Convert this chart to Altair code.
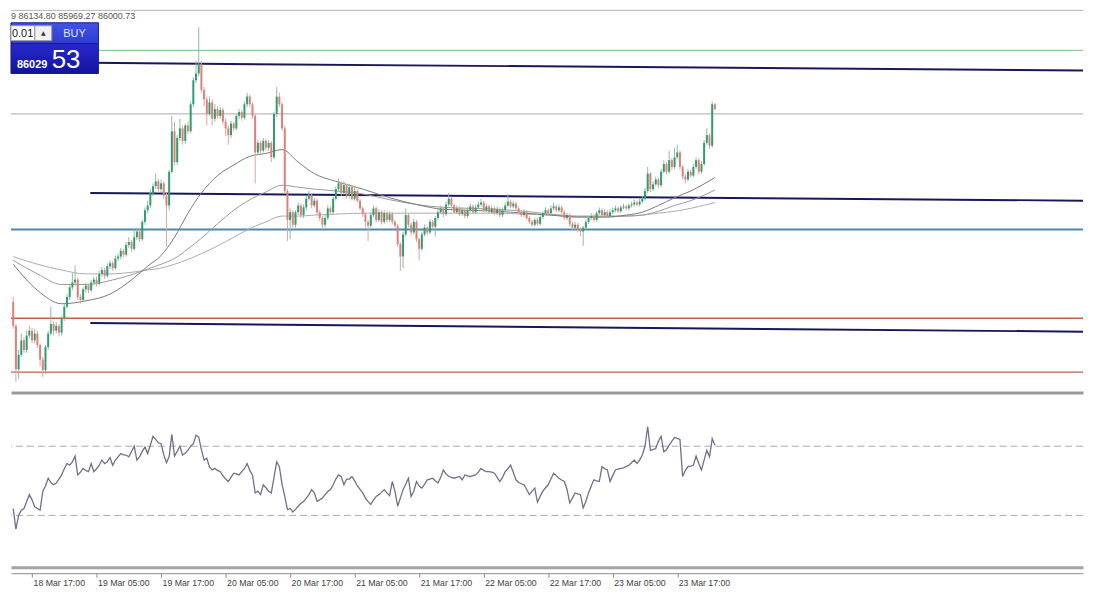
import altair as alt
import pandas as pd

# ---------------- data (BTCUSD, M30) ----------------
START = "2025-03-18 13:30"
FIRST_OPEN = 82000

CLOSE = [
    81500, 80600, 80900, 81200, 81000, 81300, 81400, 81200, 81340, 81100,
    80800, 80580, 81060, 81340, 81540, 81400, 81500, 81360, 81660, 81900,
    82100, 82300, 82400, 82460, 82100, 82040, 82260, 82340, 82240, 82400,
    82460, 82380, 82580, 82660, 82540, 82740, 82800, 82700, 82900, 82940,
    83060, 82980, 83180, 83240, 83100, 83340, 83460, 83300, 83660, 83900,
    84000, 84260, 84400, 84500, 84340, 84460, 84200, 84000, 84700, 85540,
    84900, 85400, 85600, 85340, 85660, 85540, 86100, 86600, 86740, 86940,
    86400, 86200, 85900, 86140, 85800, 86000, 85860, 85980, 85740, 85600,
    85460, 85700, 85600, 85860, 85940, 85820, 86100, 86260, 86100, 85860,
    85100, 85300, 85140, 85340, 85200, 85300, 85000, 85900, 86260, 86100,
    85600, 84300, 83700, 83860, 83600, 83860, 84000, 83800, 83960, 84140,
    84200, 84000, 84100, 83860, 83740, 83600, 83740, 83940, 83860, 84140,
    84340, 84460, 84260, 84420, 84200, 84380, 84140, 84300, 84100, 83940,
    83820, 83660, 83580, 83800, 83940, 83700, 83860, 83660, 83840, 83700,
    83820, 83660, 83580, 83200, 82940, 83400, 83800, 83600, 83440, 83660,
    83300, 83100, 83400, 83540, 83440, 83660, 83560, 83740, 83860, 83940,
    83820, 84020, 84140, 84000, 83860, 83940, 83820, 83900, 83780, 83900,
    83980, 83860, 83960, 84020, 84060, 83900, 83980, 83860, 83940, 83840,
    83920, 83800, 83900, 84000, 84080, 83980, 84040, 83940, 83860, 83800,
    83860, 83740, 83660, 83600, 83700, 83620, 83760, 83840, 83900, 83840,
    83940, 83980, 83900, 83960, 83860, 83740, 83800, 83620, 83540, 83600,
    83500, 83460, 83540, 83660, 83740, 83780, 83700, 83840, 83900, 83800,
    83860, 83780, 83860, 83900, 83940, 83880, 83960, 83980, 83940, 84000,
    84020, 84060, 84020, 84080, 84140, 84300, 84660, 84340, 84440, 84540,
    84420, 84700, 84860, 84700, 84940, 84800, 85000, 85100, 84800, 84600,
    84540, 84700, 84620, 84800, 84940, 84700, 84860, 85300, 85460, 85240,
    86100, 86000.73,
]

HIGH = [
    82100, 81540, 81000, 81340, 81260, 81400, 81500, 81460, 81440, 81400,
    81140, 80860, 81100, 81400, 81900, 81600, 81580, 81540, 81700, 81960,
    82160, 82360, 82600, 82760, 82500, 82160, 82300, 82400, 82380, 82460,
    82520, 82520, 82640, 82720, 82700, 82800, 82860, 82840, 82960, 83000,
    83120, 83100, 83240, 83340, 83280, 83500, 83540, 83500, 83700, 83960,
    84100, 84340, 84460, 84660, 84560, 84540, 84500, 84260, 84740, 85860,
    85740, 85460, 85800, 85660, 85700, 85740, 86160, 86660, 87000, 87700,
    87000, 86460, 86260, 86260, 86200, 86100, 86060, 86040, 86020, 85800,
    85660, 85760, 85740, 85900, 86000, 85980, 86160, 86340, 86300, 86140,
    85900, 85360, 85340, 85400, 85380, 85360, 85340, 85940, 86460, 86340,
    86140, 85660, 84340, 83940, 83900, 83900, 84060, 84040, 84020, 84200,
    84300, 84240, 84160, 84140, 83900, 83780, 83800, 84000, 83980, 84180,
    84400, 84560, 84500, 84500, 84460, 84440, 84420, 84400, 84340, 84140,
    83980, 83860, 83700, 83860, 84000, 83980, 83920, 83900, 83900, 83880,
    83880, 83860, 83700, 83620, 83240, 83460, 83940, 83840, 83640, 83720,
    83700, 83340, 83460, 83600, 83580, 83720, 83700, 83780, 83920, 84000,
    83980, 84080, 84260, 84180, 84040, 84000, 83980, 83960, 83940, 83960,
    84040, 84020, 84020, 84080, 84140, 84100, 84040, 84020, 84000, 83980,
    83980, 83960, 83960, 84060, 84240, 84120, 84100, 84080, 83980, 83900,
    83920, 83900, 83780, 83700, 83740, 83740, 83800, 83880, 83960, 83940,
    84000, 84060, 84020, 84020, 84000, 83900, 83840, 83840, 83660, 83660,
    83640, 83540, 83580, 83700, 83780, 83840, 83820, 83880, 83960, 83940,
    83920, 83900, 83920, 83960, 84000, 83980, 84000, 84040, 84020, 84040,
    84080, 84120, 84100, 84140, 84200, 84360, 84800, 84700, 84500, 84600,
    84580, 84760, 84940, 84900, 85140, 84980, 85200, 85260, 85140, 84840,
    84660, 84760, 84740, 84860, 85000, 84980, 84920, 85360, 85600, 85500,
    86160, 86134.80,
]

LOW = [
    81440, 80340, 80400, 80860, 80940, 80940, 81240, 81140, 81140, 81040,
    80660, 80440, 80500, 81000, 81300, 81300, 81340, 81280, 81300, 81600,
    81860, 82040, 82240, 82340, 82040, 81960, 82000, 82200, 82180, 82200,
    82340, 82320, 82340, 82520, 82480, 82500, 82680, 82640, 82660, 82840,
    82880, 82920, 82940, 83120, 83040, 83060, 83280, 83240, 83260, 83600,
    83840, 83940, 84200, 84340, 84260, 84280, 84140, 83140, 83900, 84660,
    84840, 84840, 85340, 85260, 85280, 85480, 85500, 86040, 86540, 86680,
    86340, 86060, 85660, 85860, 85660, 85740, 85800, 85800, 85680, 85440,
    85260, 85400, 85540, 85560, 85800, 85760, 85780, 86040, 86040, 85800,
    84460, 85040, 85080, 85100, 85140, 85140, 84900, 84960, 85840, 86040,
    85540, 84240, 83260, 83300, 83540, 83540, 83800, 83740, 83740, 83900,
    84100, 83940, 83960, 83800, 83680, 83500, 83540, 83700, 83800, 83820,
    84100, 84300, 84200, 84220, 84140, 84160, 84100, 84100, 84060, 83900,
    83760, 83540, 83260, 83540, 83760, 83640, 83660, 83600, 83620, 83640,
    83660, 83600, 83520, 83140, 82640, 82700, 83360, 83540, 83380, 83400,
    83240, 82860, 83060, 83360, 83380, 83400, 83500, 83360, 83700, 83820,
    83760, 83780, 83980, 83940, 83820, 83820, 83780, 83780, 83740, 83740,
    83860, 83820, 83820, 83920, 83980, 83860, 83860, 83820, 83820, 83800,
    83800, 83760, 83760, 83860, 83960, 83940, 83940, 83900, 83820, 83760,
    83760, 83700, 83620, 83560, 83560, 83580, 83580, 83720, 83800, 83800,
    83800, 83900, 83860, 83860, 83820, 83700, 83700, 83560, 83480, 83500,
    83440, 83360, 83160, 83500, 83620, 83700, 83660, 83660, 83800, 83760,
    83760, 83740, 83740, 83820, 83860, 83840, 83840, 83920, 83900, 83900,
    83960, 83980, 83980, 83980, 84040, 84100, 84260, 84280, 84300, 84400,
    84360, 84380, 84660, 84640, 84660, 84740, 84760, 84960, 84740, 84540,
    84460, 84500, 84580, 84580, 84760, 84640, 84660, 84820, 85260, 85180,
    85200, 85969.27,
]

RSI = [
    34, 22, 30, 33, 34, 38, 42, 39, 35, 34,
    33, 44, 47, 51.5, 49, 47.7, 48.7, 51, 53.4, 57,
    60, 59, 61, 64.3, 53.4, 55, 57.2, 56, 55.3, 60,
    55.3, 57, 59, 62, 60, 61, 63.5, 59, 62, 63.9,
    65.8, 65, 64.9, 63.9, 67, 70, 62, 63.9, 67, 69.6,
    65.8, 70.6, 75.7, 74, 72, 71.5, 65, 60.5, 64, 76.9,
    64.3, 67, 70, 64.9, 66, 67.7, 70, 71.5, 76.3, 75.3,
    68, 62, 63, 58, 56.3, 57.2, 56, 55.3, 53, 51,
    49.6, 52, 54.4, 54, 53.4, 55.3, 57, 60, 56, 53.4,
    43, 44, 42, 47.7, 46, 44, 43, 52, 61, 58.2,
    48, 41, 33.4, 34, 32, 33.5, 35.3, 37, 38, 40,
    42, 44.9, 43, 38.2, 39, 40, 42, 43.8, 45, 47.7,
    51, 53.4, 52.5, 47.7, 51, 51, 52.5, 50, 47, 45,
    43, 40, 38, 36.3, 39, 41, 42, 43.3, 44.9, 43,
    41.4, 49.6, 44, 35.3, 40, 44.9, 48, 51.5, 41, 44,
    49.6, 47, 45.8, 48, 50.6, 51, 51.5, 50, 48.7, 52,
    56.3, 54, 52.5, 52, 51.5, 52, 52.5, 50.6, 53.4, 52.8,
    52.5, 53, 53.4, 55, 57.2, 56, 55.3, 55.3, 55, 54.4,
    52, 49.6, 52, 55.3, 57, 59.1, 55, 50.6, 49, 48.3,
    47.7, 45, 42, 44, 45.8, 37.6, 41, 44, 46, 47.7,
    51, 54.4, 53, 51.5, 50.5, 49.6, 45, 37.2, 40, 43,
    42.5, 42, 34.4, 38, 43, 47, 50.6, 50, 49.6, 58.2,
    57, 56.3, 49.6, 53, 56.3, 56.8, 57.2, 57.5, 58.2, 59,
    60.5, 62, 60.1, 62, 64.9, 70, 81.4, 67.7, 68, 68.7,
    73, 75.7, 66.8, 68, 70.6, 73, 75, 74.5, 73.9, 52.5,
    56, 58.2, 58.5, 59, 64.3, 60, 56.3, 62, 67.7, 63.9,
    74.4, 70.6,
]

MA_INDEX = [0, 9, 18, 27, 36, 45, 50, 55, 60, 65, 70, 76, 82, 88, 94, 100, 106, 112,
            120, 130, 140, 150, 160, 170, 180, 190, 200, 210, 220, 228, 234, 240, 246,
            252, 258, 261]
MA_FAST = [82780, 82240, 81960, 82020, 82160, 82500, 82740, 82960, 83340, 83840, 84260,
           84620, 84840, 85020, 85080, 85160, 84900, 84660, 84500, 84340, 84160, 84020,
           83920, 83900, 83880, 83840, 83800, 83760, 83760, 83800, 83860, 84000, 84160,
           84300, 84480, 84580]
MA_MID = [82860, 82580, 82360, 82360, 82440, 82580, 82680, 82780, 82900, 83100, 83320,
          83620, 83900, 84120, 84280, 84420, 84380, 84340, 84300, 84240, 84120, 84020,
          83960, 83940, 83920, 83880, 83820, 83780, 83780, 83780, 83800, 83880, 84000,
          84100, 84240, 84320]
MA_SLOW = [82940, 82780, 82660, 82580, 82580, 82620, 82660, 82700, 82780, 82880, 83000,
           83160, 83340, 83520, 83660, 83780, 83780, 83800, 83820, 83840, 83840, 83840,
           83840, 83840, 83840, 83820, 83800, 83760, 83760, 83780, 83800, 83840, 83880,
           83940, 84020, 84060]

LEVELS = [87220, 85900, 83500, 81660, 80540]          # horizontal price lines
TREND_T = ["2025-03-19T03:50:00", "2025-03-26T20:28:00"]
TREND_TOP = [86960, 86800]
TREND_MID = [84260, 84100]
TREND_LOW = [81560, 81380]
RSI_LEVELS = [70, 30]

TICKS = ["2025-03-18 17:00", "2025-03-19 05:00", "2025-03-19 17:00", "2025-03-20 05:00",
         "2025-03-20 17:00", "2025-03-21 05:00", "2025-03-21 17:00", "2025-03-22 05:00",
         "2025-03-22 17:00", "2025-03-23 05:00", "2025-03-23 17:00"]
X_START = "2025-03-18 13:05"
X_END = "2025-03-26 20:28"
PRICE_RANGE = [80120, 88060]

OHLC_TEXT = "9 86134.80 85969.27 86000.73"
LOT = "0.01"
BID_BIG = "86029"
BID_PIPS = "53"

# ---------------- build tables ----------------
n = len(CLOSE)
assert len(HIGH) == n and len(LOW) == n and len(RSI) == n
times = pd.date_range(START, periods=n, freq="30min")
FMT = "%Y-%m-%dT%H:%M:%S"
candles = pd.DataFrame({
    "t": times.strftime(FMT),
    "open": [FIRST_OPEN] + CLOSE[:-1],
    "high": HIGH, "low": LOW, "close": CLOSE, "rsi": RSI,
})
ma = pd.DataFrame({
    "t": [times[i].strftime(FMT) for i in MA_INDEX],
    "fast": MA_FAST, "mid": MA_MID, "slow": MA_SLOW,
})
trend = pd.DataFrame({
    "t": TREND_T * 3,
    "p": TREND_TOP + TREND_MID + TREND_LOW,
    "id": ["a", "a", "b", "b", "c", "c"],
})
one = pd.DataFrame({"k": [0]})


def dt(s):
    ts = pd.Timestamp(s)
    return alt.DateTime(year=ts.year, month=ts.month, date=ts.day,
                        hours=ts.hour, minutes=ts.minute)


xscale = alt.Scale(domain=[dt(X_START), dt(X_END)], nice=False)
yscale = alt.Scale(domain=PRICE_RANGE, nice=False, zero=False)
rscale = alt.Scale(domain=[0, 100], nice=False, zero=False)

W = 1079
H_MAIN = 385
H_RSI = 174
UP, DN = "#2f9d70", "#e07f78"
UP_W, DN_W = "#8fb9a6", "#dba6a2"
FONT = "Liberation Sans"
NARROW = "Liberation Sans Narrow, Liberation Sans, sans-serif"

X_NONE = alt.X("t:T", scale=xscale, axis=None)

# ---------------- main panel ----------------
level_styles = [("#74c27f", 1), ("#a9a9a9", 1), ("#4a89a9", 2), ("#c95a4d", 1.4), ("#c95a4d", 1.4)]
level_layers = []
for price, (col, w) in zip(LEVELS, level_styles):
    level_layers.append(
        alt.Chart(pd.DataFrame({"p": [price]})).mark_rule(color=col, strokeWidth=w)
        .encode(y=alt.Y("p:Q", scale=yscale, axis=None))
    )

trend_layer = alt.Chart(trend).mark_line(color="#17175a", strokeWidth=2).encode(
    x=X_NONE, y=alt.Y("p:Q", scale=yscale, axis=None), detail="id:N")

ma_layers = [
    alt.Chart(ma).mark_line(color=c, strokeWidth=1, interpolate="monotone").encode(
        x=X_NONE, y=alt.Y(f"{f}:Q", scale=yscale, axis=None))
    for f, c in [("slow", "#ababab"), ("mid", "#9a9a9a"), ("fast", "#7a7a7a")]
]

up_cond = alt.datum.close >= alt.datum.open
wicks = alt.Chart(candles).mark_rule(strokeWidth=1).encode(
    x=alt.X("t:T", scale=xscale,
            axis=alt.Axis(orient="bottom", labels=False, ticks=False, title=None, grid=False,
                          domainColor="#9a9a9a", domainWidth=3)),
    y=alt.Y("low:Q", scale=yscale, axis=None),
    y2="high:Q",
    color=alt.when(up_cond).then(alt.value(UP_W)).otherwise(alt.value(DN_W)),
)
bodies = alt.Chart(candles).mark_rule(strokeWidth=2).encode(
    x=alt.X("t:T", scale=xscale,
            axis=alt.Axis(orient="top", labels=False, ticks=False, title=None, grid=False,
                          domainColor="#b4b4b4", domainWidth=1)),
    y=alt.Y("open:Q", scale=yscale, axis=None),
    y2="close:Q",
    color=alt.when(up_cond).then(alt.value(UP)).otherwise(alt.value(DN)),
)


def grad(c1, c2):
    return alt.LinearGradient(gradient="linear",
                              stops=[alt.GradientStop(color=c1, offset=0),
                                     alt.GradientStop(color=c2, offset=1)],
                              x1=0, x2=0, y1=0, y2=1)


def box(x1, x2, y1, y2, **kw):
    return alt.Chart(one).mark_rect(**kw).encode(
        x=alt.value(x1), x2=alt.value(x2), y=alt.value(y1), y2=alt.value(y2))


def label(txt, x, y, **kw):
    return alt.Chart(one).mark_text(text=txt, **kw).encode(x=alt.value(x), y=alt.value(y))


ui = [
    label(OHLC_TEXT, 0, 6, align="left", baseline="middle", fontSize=9, font=FONT, color="#555555"),
    box(0, 88, 13, 34, fill=grad("#4254e6", "#2d3cd2"), stroke="#1a1a90", strokeWidth=1),
    box(0, 88, 34, 64, fill=grad("#2828cc", "#13139e"), stroke="#1a1a90", strokeWidth=1),
    box(0, 24, 16, 31, fill="#ffffff", stroke="#9a9a9a", strokeWidth=1),
    box(24, 41, 16, 31, fill="#f0f0f0", stroke="#9a9a9a", strokeWidth=1),
    label(LOT, 1, 24, align="left", baseline="middle", fontSize=11, font=FONT, color="#111111"),
    label("▲", 32.5, 23.5, align="center", baseline="middle", fontSize=6, font="DejaVu Sans", color="#333333"),
    label("BUY", 64, 24, align="center", baseline="middle", fontSize=11, font=FONT, color="#dfe6ff"),
    label(BID_BIG, 6, 59, align="left", baseline="alphabetic", fontSize=11, font=FONT,
          fontWeight="bold", color="#ffffff"),
    label(BID_PIPS, 41, 59, align="left", baseline="alphabetic", fontSize=26, font=FONT, color="#ffffff"),
]

main = alt.layer(*level_layers, trend_layer, *ma_layers, wicks, bodies, *ui).resolve_axis(
    x="independent").properties(width=W, height=H_MAIN)

# ---------------- RSI panel ----------------
tick_vals = [dt(s) for s in TICKS]
rsi_levels = alt.Chart(pd.DataFrame({"v": RSI_LEVELS})).mark_rule(
    color="#a8a8b4", strokeWidth=1, strokeDash=[7, 4]).encode(
    y=alt.Y("v:Q", scale=rscale, axis=None))

rsi_line = alt.Chart(candles).mark_line(color="#6f6f8b", strokeWidth=1.3).encode(
    x=alt.X("t:T", scale=xscale,
            axis=alt.Axis(orient="bottom", values=tick_vals, format="%d %b %H:%M",
                          labelAlign="left", labelOffset=1, labelPadding=1,
                          labelFont=NARROW, labelFontSize=8.8, labelColor="#404040",
                          labelFlush=False, labelOverlap=False,
                          tickColor="#8a8a8a", tickSize=4, domainColor="#8a8a8a",
                          domainWidth=1, offset=6, grid=False, title=None)),
    y=alt.Y("rsi:Q", scale=rscale, axis=None),
)

frame = alt.Chart(pd.DataFrame({"t": [pd.Timestamp(X_START).strftime(FMT),
                                      pd.Timestamp(X_END).strftime(FMT)]})).mark_point(
    opacity=0).encode(
    x=alt.X("t:T", scale=xscale,
            axis=alt.Axis(orient="bottom", labels=False, ticks=False, title=None, grid=False,
                          domainColor="#a4a4a4", domainWidth=3)))

rsi_panel = alt.layer(rsi_levels, rsi_line, frame).resolve_axis(
    x="independent").properties(width=W, height=H_RSI)

chart = alt.vconcat(main, rsi_panel, spacing=2).properties(
    padding=0, background="#ffffff").configure_view(strokeWidth=0)

chart.save("out.html", embed_options={"renderer": "svg", "actions": False})
